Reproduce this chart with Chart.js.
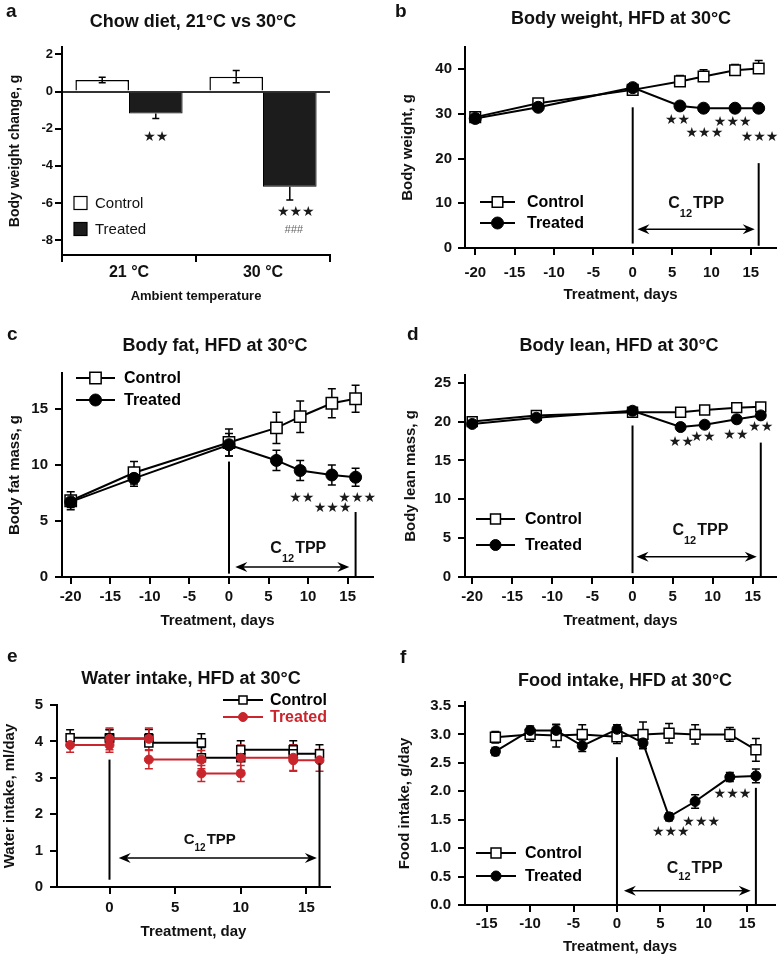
<!DOCTYPE html>
<html>
<head>
<meta charset="utf-8">
<script src="https://cdn.jsdelivr.net/npm/chart.js@4.4.1/dist/chart.umd.min.js"></script>
<style>
  html, body { margin: 0; padding: 0; background: #fff; }
  #fig { position: relative; width: 778px; height: 957px; overflow: hidden; }
  #fig canvas { position: absolute; }
</style>
</head>
<body>
<div id="fig"></div>
<script>
const FF = '"Liberation Sans", Arial, Helvetica, sans-serif';
Chart.defaults.font.family = FF;
Chart.defaults.color = '#111';

// ---- a: chow diet, body weight change ----
const chowCats = ['21 °C', '30 °C'];
const chowControl = [0.62, 0.80];
const chowControlErr = [0.15, 0.33];
const chowTreated = [-1.18, -5.12];
const chowTreatedErr = [0.27, 0.72];
const chowTicks = [2, 0, -2, -4, -6, -8];

// ---- b, c, d: HFD at 30°C, same measurement days ----
const hfdDays = [-20, -12, 0, 6, 9, 13, 16];
const dayTicks = [-20, -15, -10, -5, 0, 5, 10, 15];

const weightControl = [29.3, 32.4, 35.4, 37.3, 38.4, 39.8, 40.2];
const weightControlErr = [0.5, 0.8, 1.2, 1.3, 1.5, 1.3, 1.8];
const weightTreated = [29.0, 31.5, 35.9, 31.8, 31.3, 31.3, 31.3];
const weightTreatedErr = [0.5, 0.5, 1.0, 0.6, 0.5, 0.5, 0.5];
const weightTicks = [0, 10, 20, 30, 40];

const fatControl = [6.8, 9.3, 12.0, 13.3, 14.3, 15.5, 15.9];
const fatControlErr = [0.8, 1.0, 1.2, 1.4, 1.4, 1.3, 1.2];
const fatTreated = [6.7, 8.8, 11.8, 10.4, 9.5, 9.1, 8.9];
const fatTreatedErr = [0.5, 0.7, 1.0, 0.9, 0.9, 0.9, 0.8];
const fatTicks = [0, 5, 10, 15];

const leanControl = [20.0, 20.8, 21.2, 21.2, 21.5, 21.8, 21.9];
const leanControlErr = [0.3, 0.3, 0.4, 0.3, 0.3, 0.3, 0.3];
const leanTreated = [19.7, 20.5, 21.4, 19.3, 19.6, 20.3, 20.8];
const leanTreatedErr = [0.3, 0.3, 0.4, 0.4, 0.4, 0.4, 0.4];
const leanTicks = [0, 5, 10, 15, 20, 25];

// ---- e: water intake, one value per period ----
const waterStart = [-3, 0, 3, 7, 10, 14];
const waterEnd = [0, 3, 7, 10, 14, 16];
const waterControl = [4.10, 4.08, 3.96, 3.55, 3.77, 3.66];
const waterControlErr = [0.22, 0.25, 0.25, 0.28, 0.25, 0.25];
const waterTreated = [3.90, 4.07, 3.50, 3.12, 3.55, 3.48];
const waterTreatedErr = [0.2, 0.3, 0.25, 0.22, 0.35, 0.3];
const waterXTicks = [0, 5, 10, 15];
const waterYTicks = [0, 1, 2, 3, 4, 5];

// ---- f: food intake ----
const foodDays = [-14, -10, -7, -4, 0, 3, 6, 9, 13, 16];
const foodControl = [2.95, 3.0, 2.98, 3.0, 2.96, 3.0, 3.02, 3.0, 3.0, 2.73];
const foodControlErr = [0.1, 0.12, 0.2, 0.17, 0.12, 0.22, 0.17, 0.17, 0.12, 0.2];
const foodTreated = [2.70, 3.07, 3.07, 2.80, 3.09, 2.85, 1.55, 1.82, 2.25, 2.27];
const foodTreatedErr = [0.07, 0.08, 0.1, 0.1, 0.08, 0.1, 0.07, 0.12, 0.08, 0.12];
const foodXTicks = [-15, -10, -5, 0, 5, 10, 15];
const foodYTicks = [0, 0.5, 1, 1.5, 2, 2.5, 3, 3.5];

const RED = '#c9252c';

function pts(xs, ys) { return xs.map((x, i) => ({x: x, y: ys[i]})); }
function periodPts(vals) {
  const out = [];
  vals.forEach((v, i) => out.push({x: waterStart[i], y: v}, {x: waterEnd[i], y: v}, {x: waterEnd[i], y: null}));
  return out;
}
function periodErr(errs) {
  const out = [];
  errs.forEach(e => out.push(e, e, 0));
  return out;
}

function ctrl(data, up, down, r) {
  return {label: 'Control', data: data, errUp: up, errDown: down,
    borderColor: '#000', borderWidth: 2, tension: 0, order: 1, spanGaps: false,
    pointStyle: 'rect', pointRadius: r, pointBackgroundColor: '#fff', pointBorderColor: '#000', pointBorderWidth: 1.5};
}
function treat(data, up, down, r, color) {
  color = color || '#000';
  return {label: 'Treated', data: data, errUp: up, errDown: down,
    borderColor: color, borderWidth: 2, tension: 0, order: 0, spanGaps: false,
    pointStyle: 'circle', pointRadius: r, pointBackgroundColor: color, pointBorderColor: color, pointBorderWidth: 1};
}

function linAxis(min, max, vals, title, o) {
  return {
    type: 'linear', min: min, max: max,
    afterBuildTicks: s => { s.ticks = vals.map(v => ({value: v})); },
    border: {display: true, color: '#000', width: 2},
    grid: {display: true, drawOnChartArea: false, drawTicks: true, tickLength: 7, color: '#000', lineWidth: 2},
    ticks: {color: '#111', autoSkip: false, maxRotation: 0, padding: o.pad,
            font: {size: o.size || 15, weight: 'bold'}, callback: o.fmt || (v => String(v))},
    title: {display: true, text: title, color: '#111', font: {size: o.tsize || 15, weight: 'bold'},
            padding: {top: o.tpad || 0, bottom: o.tpad || 0}}
  };
}

function drawMarker(ctx, style, x, y, r, fill, stroke, bw) {
  ctx.save();
  ctx.fillStyle = fill; ctx.strokeStyle = stroke; ctx.lineWidth = bw;
  ctx.beginPath();
  if (style === 'rect') {
    const s = r * Math.SQRT1_2;
    ctx.rect(x - s, y - s, 2 * s, 2 * s);
  } else {
    ctx.arc(x, y, r, 0, Math.PI * 2);
  }
  ctx.fill(); ctx.stroke();
  ctx.restore();
}

function drawErrors(chart) {
  const ctx = chart.ctx, ys = chart.scales.y;
  chart.data.datasets.forEach((ds, di) => {
    if (!ds.errUp && !ds.errDown) return;
    const meta = chart.getDatasetMeta(di);
    ctx.save();
    ctx.strokeStyle = ds.borderColor;
    ctx.lineWidth = 1.5;
    const cap = ds.capW || 4;
    meta.data.forEach((el, i) => {
      const d = ds.data[i];
      const v = (d !== null && typeof d === 'object') ? d.y : d;
      if (v == null) return;
      [[ds.errUp, 1], [ds.errDown, -1]].forEach(([arr, sgn]) => {
        if (!arr || !arr[i]) return;
        const y0 = ys.getPixelForValue(v), y1 = ys.getPixelForValue(v + sgn * arr[i]);
        ctx.beginPath();
        ctx.moveTo(el.x, y0); ctx.lineTo(el.x, y1);
        ctx.moveTo(el.x - cap, y1); ctx.lineTo(el.x + cap, y1);
        ctx.stroke();
      });
    });
    ctx.restore();
  });
}

function drawTPP(ctx, cx, cy, size, drop) {
  const big = 'bold ' + size + 'px ' + FF, small = 'bold ' + Math.round(size * 0.68) + 'px ' + FF;
  ctx.font = big;
  const wC = ctx.measureText('C').width, wT = ctx.measureText('TPP').width;
  ctx.font = small;
  const w12 = ctx.measureText('12').width;
  let x = cx - (wC + w12 + wT) / 2;
  ctx.fillStyle = '#111'; ctx.textAlign = 'left'; ctx.textBaseline = 'alphabetic';
  ctx.font = big; ctx.fillText('C', x, cy); x += wC;
  ctx.font = small; ctx.fillText('12', x, cy + drop); x += w12 + 1;
  ctx.font = big; ctx.fillText('TPP', x, cy);
}

function arrowHead(ctx, tipX, y, dir) {
  ctx.beginPath();
  ctx.moveTo(tipX, y);
  ctx.lineTo(tipX - dir * 12, y - 5);
  ctx.lineTo(tipX - dir * 8, y);
  ctx.lineTo(tipX - dir * 12, y + 5);
  ctx.closePath();
  ctx.fill();
}

const deco = {
  id: 'deco',
  beforeDatasetsDraw(chart, args, o) { if (!o.barErr) drawErrors(chart); },
  afterDatasetsDraw(chart, args, o) { if (o.barErr) drawErrors(chart); },
  afterDraw(chart, args, o) {
    const ctx = chart.ctx, xs = chart.scales.x, ys = chart.scales.y;
    const ox = o.origin[0], oy = o.origin[1];
    const X = v => xs.getPixelForValue(v), Y = v => ys.getPixelForValue(v);
    ctx.save();
    ctx.fillStyle = '#111';
    ctx.textBaseline = 'alphabetic';
    ctx.textAlign = 'left';
    ctx.font = 'bold 19px ' + FF;
    ctx.fillText(o.letter, o.letterAt[0] - ox, o.letterAt[1] - oy);
    ctx.textAlign = 'center';
    ctx.font = 'bold 18px ' + FF;
    ctx.fillText(o.title, o.titleAt[0] - ox, o.titleAt[1] - oy);

    // treatment start / end lines
    ctx.strokeStyle = '#000';
    ctx.lineWidth = 2;
    (o.vlines || []).forEach(([x, y0, y1]) => {
      ctx.beginPath(); ctx.moveTo(X(x), Y(y0)); ctx.lineTo(X(x), Y(y1)); ctx.stroke();
    });
    if (o.arrow) {
      const x0 = X(o.arrow[0]), x1 = X(o.arrow[1]), y = Y(o.arrow[2]);
      ctx.lineWidth = 1.5;
      ctx.beginPath(); ctx.moveTo(x0 + 6, y); ctx.lineTo(x1 - 6, y); ctx.stroke();
      ctx.fillStyle = '#000';
      arrowHead(ctx, x0, y, -1);
      arrowHead(ctx, x1, y, 1);
    }
    if (o.tpp) drawTPP(ctx, X(o.tpp[0]), Y(o.tpp[1]), o.tppSize || 16, o.tppDrop || 9);

    // significance marks
    ctx.textAlign = 'center';
    ctx.textBaseline = 'middle';
    (o.stars || []).forEach(s => {
      const sx = s.ds != null ? chart.getDatasetMeta(s.ds).data[s.i].x + (s.dx || 0) : X(s.x);
      ctx.fillStyle = s.color || '#1a1a1a';
      ctx.font = s.font || '14px "DejaVu Sans"';
      ctx.fillText(s.font ? s.t : s.t.replace(/\*/g, '\u2605'), sx, Y(s.y));
    });

    // legend
    if (o.legend) {
      const L = o.legend;
      chart.data.datasets.forEach((ds, k) => {
        const y = L.ys[k] - oy;
        if (L.box) {
          ctx.fillStyle = ds.backgroundColor; ctx.strokeStyle = '#000'; ctx.lineWidth = 1.2;
          ctx.fillRect(L.x0 - ox, y - L.box / 2, L.box, L.box);
          ctx.strokeRect(L.x0 - ox, y - L.box / 2, L.box, L.box);
        } else {
          const x0 = L.x0 - ox, x1 = L.x1 - ox;
          ctx.strokeStyle = ds.borderColor; ctx.lineWidth = 2;
          ctx.beginPath(); ctx.moveTo(x0, y); ctx.lineTo(x1, y); ctx.stroke();
          drawMarker(ctx, ds.pointStyle, (x0 + x1) / 2, y, ds.pointRadius,
                     ds.pointBackgroundColor, ds.pointBorderColor, ds.pointBorderWidth);
        }
        ctx.fillStyle = L.box ? '#111' : ds.borderColor;
        ctx.font = L.font;
        ctx.textAlign = 'left'; ctx.textBaseline = 'middle';
        ctx.fillText(ds.label, L.textX - ox, y + 1);
      });
    }
    ctx.restore();
  }
};

function makeChart(p) {
  const [bx, by, bw, bh] = p.box;
  const [l, t, r, b] = p.area;
  const cv = document.createElement('canvas');
  cv.width = bw; cv.height = bh;
  cv.style.left = bx + 'px'; cv.style.top = by + 'px';
  document.getElementById('fig').appendChild(cv);
  p.x.afterFit = s => { s.height = by + bh - b; };
  p.y.afterFit = s => { s.width = l - bx; };
  p.deco.origin = [bx, by];
  return new Chart(cv, {
    type: p.type,
    data: p.data,
    options: {
      responsive: false,
      animation: false,
      layout: {autoPadding: false, padding: {left: 0, top: t - by, right: bx + bw - r, bottom: 0}},
      plugins: {legend: {display: false}, tooltip: {enabled: false}, deco: p.deco},
      scales: {x: p.x, y: p.y}
    },
    plugins: [deco]
  });
}

// ---- a ----
const aY = linAxis(-8.8, 2.4, chowTicks, 'Body weight change, g', {pad: 2, size: 13, tsize: 14, tpad: 7});
aY.grid = {display: true, drawOnChartArea: true, drawTicks: true, tickLength: 7, lineWidth: 2, tickColor: '#000',
           color: c => (c.tick && c.tick.value === 0) ? '#333' : 'rgba(0,0,0,0)'};
makeChart({
  type: 'bar', box: [0, 0, 389, 310], area: [62, 47, 330, 255],
  data: {
    labels: chowCats,
    datasets: [
      {label: 'Control', data: chowControl, backgroundColor: '#fff', borderColor: '#000', borderWidth: 1.5,
       errUp: chowControlErr, errDown: chowControlErr, capW: 3.5, categoryPercentage: 0.8, barPercentage: 1.0},
      {label: 'Treated', data: chowTreated, backgroundColor: '#1c1c1c', borderColor: '#000', borderWidth: 1,
       errDown: chowTreatedErr, capW: 3.5, categoryPercentage: 0.8, barPercentage: 1.0}
    ]
  },
  x: {type: 'category', offset: true,
      border: {display: true, color: '#000', width: 2},
      grid: {display: true, offset: true, drawOnChartArea: false, tickLength: 7, color: '#000', lineWidth: 2},
      ticks: {color: '#111', padding: 1, font: {size: 16, weight: 'bold'}},
      title: {display: true, text: 'Ambient temperature', color: '#111', font: {size: 13, weight: 'bold'},
              padding: {top: 0, bottom: 6}}},
  y: aY,
  deco: {
    barErr: true, letter: 'a', letterAt: [6, 17], title: 'Chow diet, 21°C vs 30°C', titleAt: [193, 27],
    legend: {box: 13, x0: 74, ys: [203, 229], textX: 95, font: '15px ' + FF},
    stars: [
      {ds: 1, i: 0, y: -2.45, t: '**'},
      {ds: 1, i: 1, dx: 6, y: -6.5, t: '***'},
      {ds: 1, i: 1, dx: 4, y: -7.45, t: '###', font: 'italic 11px ' + FF, color: '#666'}
    ]
  }
});

// ---- b ----
makeChart({
  type: 'line', box: [389, 0, 389, 310], area: [465, 47, 776, 248],
  data: {datasets: [
    ctrl(pts(hfdDays, weightControl), weightControlErr, null, 7.5),
    treat(pts(hfdDays, weightTreated), null, weightTreatedErr, 6)
  ]},
  x: linAxis(-21.3, 18.2, dayTicks, 'Treatment, days', {pad: 9, tpad: 6}),
  y: linAxis(0, 45, weightTicks, 'Body weight, g', {pad: 6, tpad: 10}),
  deco: {
    letter: 'b', letterAt: [395, 17], title: 'Body weight, HFD at 30°C', titleAt: [621, 24],
    legend: {x0: 480, x1: 515, ys: [202, 223], textX: 527, font: 'bold 16px ' + FF},
    vlines: [[0, 1, 31.5], [16, 0.5, 19]],
    arrow: [0.6, 15.5, 4.2],
    tpp: [8.0, 8.9],
    stars: [{x: 5.7, y: 28.6, t: '**'}, {x: 9.1, y: 25.7, t: '***'}, {x: 12.7, y: 28.2, t: '***'}, {x: 16.1, y: 24.8, t: '***'}]
  }
});

// ---- c ----
makeChart({
  type: 'line', box: [0, 310, 389, 320], area: [62, 373, 373, 577],
  data: {datasets: [
    ctrl(pts(hfdDays, fatControl), fatControlErr, fatControlErr, 8),
    treat(pts(hfdDays, fatTreated), fatTreatedErr, fatTreatedErr, 6)
  ]},
  x: linAxis(-21.1, 18.2, dayTicks, 'Treatment, days', {pad: 4, tpad: 0}),
  y: linAxis(0, 18.2, fatTicks, 'Body fat mass, g', {pad: 7, tpad: 6}),
  deco: {
    letter: 'c', letterAt: [7, 340], title: 'Body fat, HFD at 30°C', titleAt: [215, 351],
    legend: {x0: 76, x1: 115, ys: [378, 400], textX: 124, font: 'bold 16px ' + FF},
    vlines: [[0, 0.3, 10.3], [16, 0, 5.8]],
    arrow: [0.8, 15.2, 0.9],
    tpp: [8.7, 2.1],
    stars: [{x: 9.2, y: 7.05, t: '**'}, {x: 13.1, y: 6.1, t: '***'}, {x: 16.2, y: 7.05, t: '***'}]
  }
});

// ---- d ----
makeChart({
  type: 'line', box: [389, 310, 389, 320], area: [465, 375, 776, 577],
  data: {datasets: [
    ctrl(pts(hfdDays, leanControl), leanControlErr, leanControlErr, 7),
    treat(pts(hfdDays, leanTreated), leanTreatedErr, leanTreatedErr, 5.5)
  ]},
  x: linAxis(-20.9, 17.9, dayTicks, 'Treatment, days', {pad: 4, tpad: 0}),
  y: linAxis(0, 26, leanTicks, 'Body lean mass, g', {pad: 7, tpad: 13}),
  deco: {
    letter: 'd', letterAt: [407, 340], title: 'Body lean, HFD at 30°C', titleAt: [619, 351],
    legend: {x0: 476, x1: 515, ys: [519, 545], textX: 525, font: 'bold 16px ' + FF},
    vlines: [[0, 0.5, 19.5], [16, 0, 17.3]],
    arrow: [0.5, 15.5, 2.6],
    tpp: [8.4, 5.4],
    stars: [{x: 6.1, y: 17.3, t: '**'}, {x: 8.8, y: 17.95, t: '**'}, {x: 12.9, y: 18.2, t: '**'}, {x: 16.0, y: 19.2, t: '**'}]
  }
});

// ---- e ----
makeChart({
  type: 'line', box: [0, 630, 389, 327], area: [57, 705, 330, 887],
  data: {datasets: [
    ctrl(periodPts(waterControl), periodErr(waterControlErr), null, 5.7),
    treat(periodPts(waterTreated), periodErr(waterTreatedErr), periodErr(waterTreatedErr), 4.5, RED)
  ]},
  x: linAxis(-4, 16.8, waterXTicks, 'Treatment, day', {pad: 5, tpad: 16}),
  y: linAxis(0, 5, waterYTicks, 'Water intake, ml/day', {pad: 7, tpad: 1}),
  deco: {
    letter: 'e', letterAt: [7, 662], title: 'Water intake, HFD at 30°C', titleAt: [191, 684],
    legend: {x0: 223, x1: 263, ys: [700, 717], textX: 270, font: 'bold 16px ' + FF},
    vlines: [[0, 0.2, 3.5], [16, 0, 3.4]],
    arrow: [0.7, 15.8, 0.8],
    tpp: [7.6, 1.18], tppSize: 15, tppDrop: 7
  }
});

// ---- f ----
makeChart({
  type: 'line', box: [389, 630, 389, 327], area: [465, 702, 775, 905],
  data: {datasets: [
    ctrl(pts(foodDays, foodControl), foodControlErr, foodControlErr, 7),
    treat(pts(foodDays, foodTreated), foodTreatedErr, foodTreatedErr, 5)
  ]},
  x: linAxis(-17.5, 18.2, foodXTicks, 'Treatment, days', {pad: 3, tpad: 1}),
  y: linAxis(0, 3.57, foodYTicks, 'Food intake, g/day', {pad: 7, tpad: 7, fmt: v => v.toFixed(1)}),
  deco: {
    letter: 'f', letterAt: [400, 663], title: 'Food intake, HFD at 30°C', titleAt: [625, 686],
    legend: {x0: 476, x1: 516, ys: [853, 876], textX: 525, font: 'bold 16px ' + FF},
    vlines: [[0, 0, 2.6], [16, 0, 2.06]],
    arrow: [0.8, 15.4, 0.25],
    tpp: [8.9, 0.56], tppDrop: 7,
    stars: [{x: 6.2, y: 1.27, t: '***'}, {x: 9.7, y: 1.46, t: '***'}, {x: 13.3, y: 1.94, t: '***'}]
  }
});
</script>
</body>
</html>
